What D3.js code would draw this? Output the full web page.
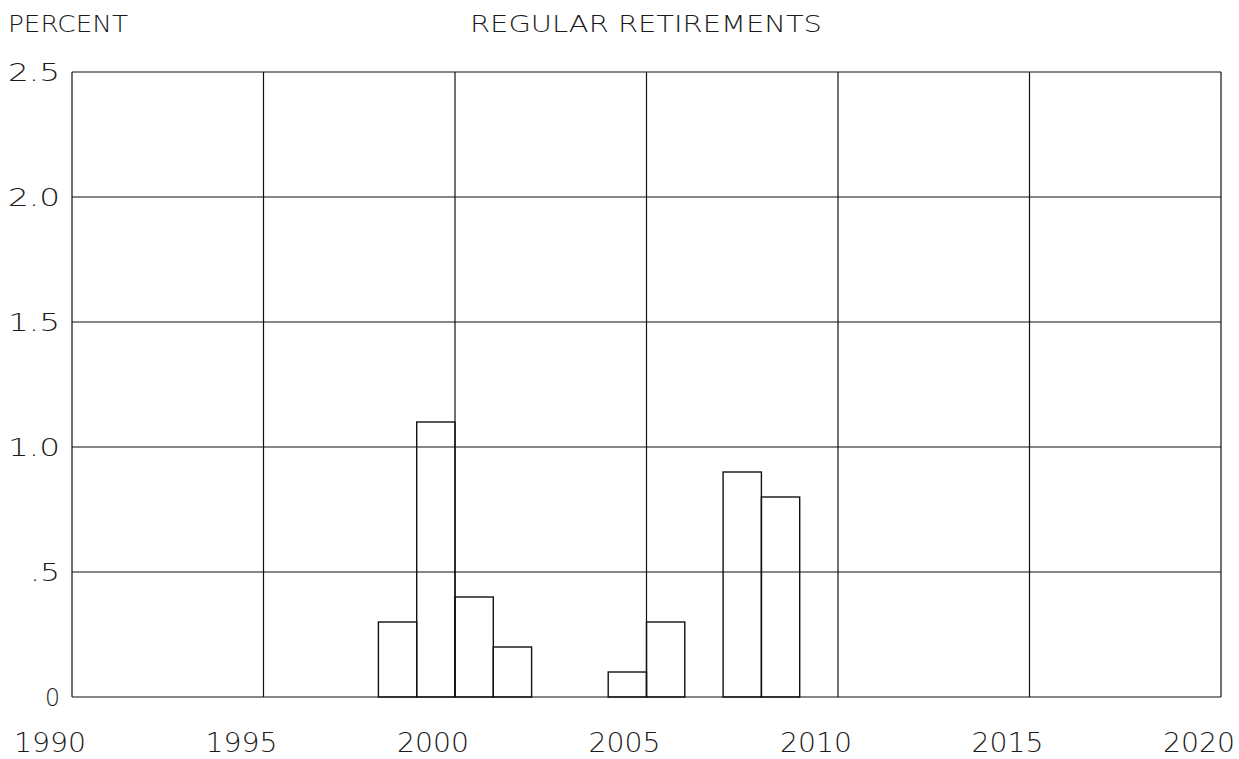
<!DOCTYPE html>
<html>
<head>
<meta charset="utf-8">
<title>Regular Retirements</title>
<script src="https://cdn.jsdelivr.net/npm/d3@7"></script>
<style>
  body { margin: 0; background: #fff; }
  .lbl { font-family: "DejaVu Sans", sans-serif; font-weight: 200; fill: #1a1a1a; }
  .grid line { stroke: #111; stroke-width: 1.2px; }
  .bar { fill: none; stroke: #111; stroke-width: 1.4px; }
</style>
</head>
<body>
<svg id="chart" width="1239" height="759"></svg>
<script>
// bar start years (each bar covers one year) and values in percent
var years = [1998, 1999, 2000, 2001, 2004, 2005, 2007, 2008];
var values = [0.3, 1.1, 0.4, 0.2, 0.1, 0.3, 0.9, 0.8];
var xTicks = [1990, 1995, 2000, 2005, 2010, 2015, 2020];
var yTicks = [0, 0.5, 1.0, 1.5, 2.0, 2.5];
var yTickLabels = ["0", ".5", "1.0", "1.5", "2.0", "2.5"];

var svg = d3.select("#chart");
var mLeft = 72, mRight = 1221, mTop = 72, mBottom = 697;

var x = d3.scaleLinear().domain([1990, 2020]).range([mLeft, mRight]);
var y = d3.scaleLinear().domain([0, 2.5]).range([mBottom, mTop]);

// grid
var grid = svg.append("g").attr("class", "grid");
grid.selectAll(".v").data(xTicks).enter().append("line")
    .attr("x1", function(d) { return x(d); }).attr("x2", function(d) { return x(d); })
    .attr("y1", mTop).attr("y2", mBottom);
grid.selectAll(".h").data(yTicks).enter().append("line")
    .attr("x1", mLeft).attr("x2", mRight)
    .attr("y1", function(d) { return y(d); }).attr("y2", function(d) { return y(d); });

// bars
svg.selectAll(".bar").data(years).enter().append("rect")
    .attr("class", "bar")
    .attr("x", function(d) { return x(d); })
    .attr("width", function(d) { return x(d + 1) - x(d); })
    .attr("y", function(d, i) { return y(values[i]); })
    .attr("height", function(d, i) { return y(0) - y(values[i]); });

// y labels
svg.selectAll(".ylab").data(yTicks).enter().append("text")
    .attr("class", "lbl")
    .attr("x", 60).attr("y", function(d) { return y(d) + 9; })
    .attr("text-anchor", "end")
    .attr("textLength", function(d, i) { return yTickLabels[i].length === 1 ? 15 : (yTickLabels[i].length === 2 ? 30 : 52); })
    .attr("lengthAdjust", "spacingAndGlyphs")
    .style("font-size", "25px")
    .text(function(d, i) { return yTickLabels[i]; });

// x labels (set left of their grid line, as in the plot)
svg.selectAll(".xlab").data(xTicks).enter().append("text")
    .attr("class", "lbl")
    .attr("x", function(d) { return x(d) - 22; })
    .attr("y", 752)
    .attr("text-anchor", "middle")
    .attr("textLength", 72)
    .attr("lengthAdjust", "spacingAndGlyphs")
    .style("font-size", "26px")
    .text(function(d) { return d; });

svg.append("text").attr("class", "lbl")
    .attr("x", 8).attr("y", 32)
    .attr("textLength", 120)
    .attr("lengthAdjust", "spacingAndGlyphs")
    .style("font-size", "23px")
    .text("PERCENT");

svg.append("text").attr("class", "lbl")
    .attr("x", 470).attr("y", 32)
    .attr("textLength", 352)
    .attr("lengthAdjust", "spacingAndGlyphs")
    .style("font-size", "23px")
    .text("REGULAR RETIREMENTS");
</script>
</body>
</html>
